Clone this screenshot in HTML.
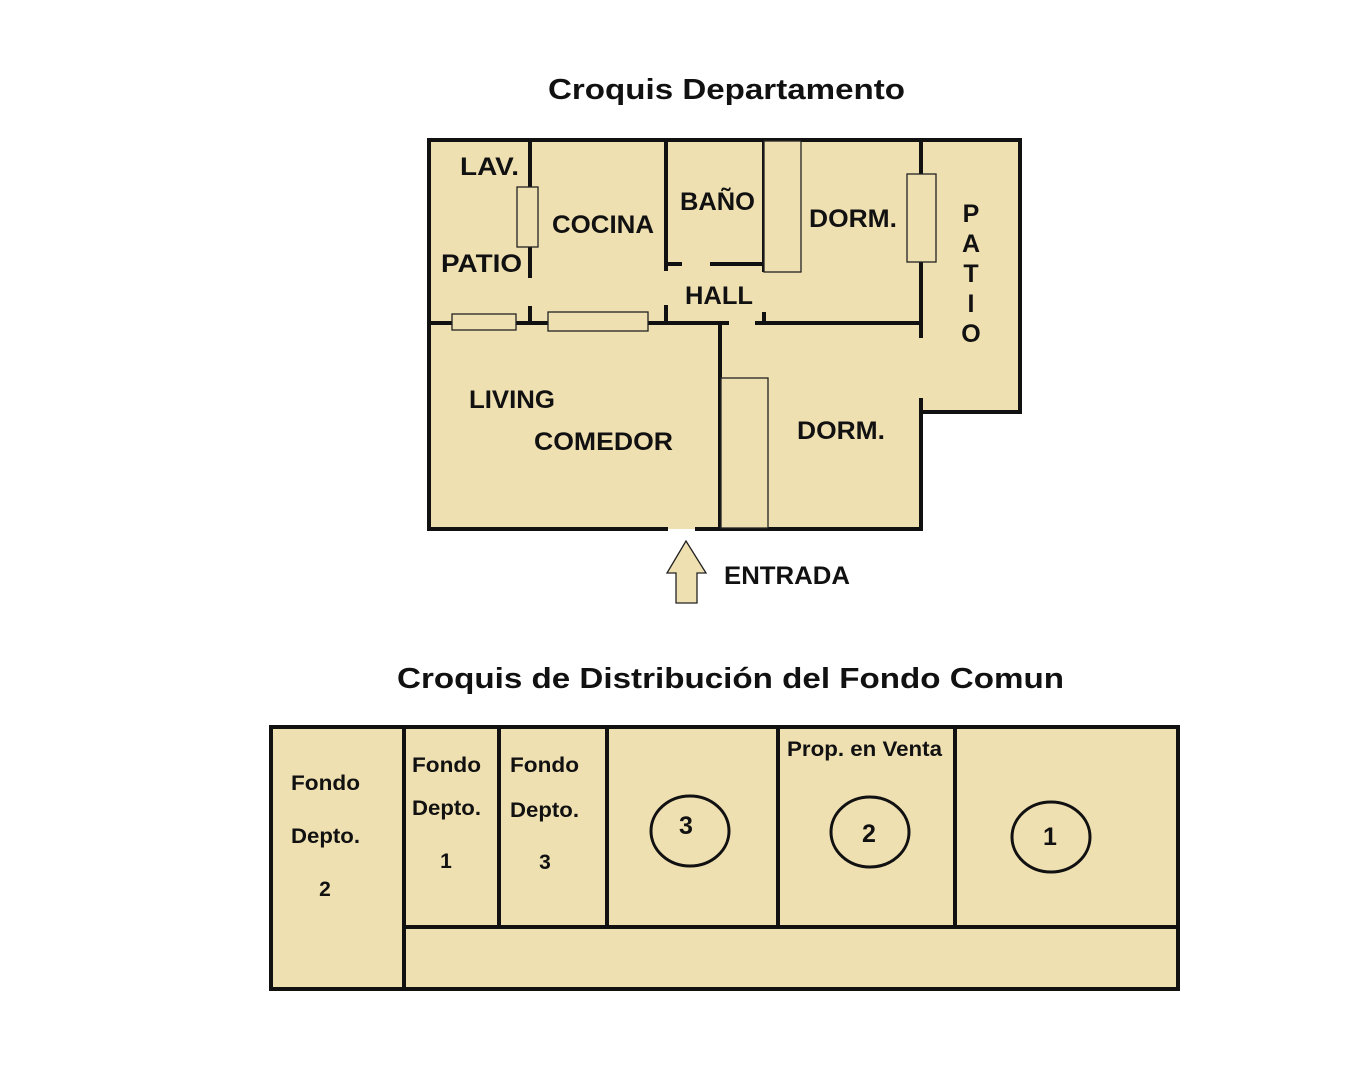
<!DOCTYPE html>
<html><head><meta charset="utf-8"><style>
html,body{margin:0;padding:0;background:#fff;}
svg{display:block}
text{font-family:"Liberation Sans",Arial,sans-serif;font-weight:bold;fill:#111;}
</style></head><body>
<svg width="1364" height="1080" viewBox="0 0 1364 1080" xmlns="http://www.w3.org/2000/svg">
<text x="548" y="99" font-size="29" textLength="357" lengthAdjust="spacingAndGlyphs">Croquis Departamento</text>
<polygon points="429,140 1020,140 1020,412 921,412 921,529 429,529" fill="#EFE0B2"/>
<g stroke="#111" stroke-width="4" fill="none" stroke-linecap="square">
<polyline points="666,529 429,529 429,140 1020,140 1020,412 921,412 921,529 697,529"/>
<line x1="530" y1="140" x2="530" y2="276"/>
<line x1="530" y1="308" x2="530" y2="322"/>
<line x1="666" y1="140" x2="666" y2="269"/>
<line x1="666" y1="307" x2="666" y2="322"/>
<line x1="666" y1="264" x2="680" y2="264"/>
<line x1="712" y1="264" x2="764" y2="264"/>
<line x1="764" y1="140" x2="764" y2="270"/>
<line x1="764" y1="314" x2="764" y2="322"/>
<line x1="429" y1="323" x2="727" y2="323"/>
<line x1="757" y1="323" x2="921" y2="323"/>
<line x1="921" y1="140" x2="921" y2="336"/>
<line x1="921" y1="400" x2="921" y2="529"/>
<line x1="720" y1="323" x2="720" y2="529"/>
</g>
<g stroke="#222" stroke-width="1.3" fill="#EFE0B2">
<rect x="517" y="187" width="21" height="60"/>
<rect x="452" y="314" width="64" height="16"/>
<rect x="548" y="312" width="100" height="19"/>
<rect x="764" y="141" width="37" height="131"/>
<rect x="907" y="174" width="29" height="88"/>
<rect x="721" y="378" width="47" height="150"/>
</g>
<g font-size="25">
<text x="460" y="175" textLength="59" lengthAdjust="spacingAndGlyphs">LAV.</text>
<text x="441" y="272" textLength="81" lengthAdjust="spacingAndGlyphs">PATIO</text>
<text x="552" y="233" textLength="102" lengthAdjust="spacingAndGlyphs">COCINA</text>
<text x="680" y="210" textLength="75" lengthAdjust="spacingAndGlyphs">BAÑO</text>
<text x="809" y="227" textLength="88" lengthAdjust="spacingAndGlyphs">DORM.</text>
<text x="685" y="304" textLength="68" lengthAdjust="spacingAndGlyphs">HALL</text>
<text x="469" y="408" textLength="86" lengthAdjust="spacingAndGlyphs">LIVING</text>
<text x="534" y="450" textLength="139" lengthAdjust="spacingAndGlyphs">COMEDOR</text>
<text x="797" y="439" textLength="88" lengthAdjust="spacingAndGlyphs">DORM.</text>
<text x="724" y="584" textLength="126" lengthAdjust="spacingAndGlyphs">ENTRADA</text>
<text x="971" y="222" text-anchor="middle">P</text>
<text x="971" y="252" text-anchor="middle">A</text>
<text x="971" y="282" text-anchor="middle">T</text>
<text x="971" y="312" text-anchor="middle">I</text>
<text x="971" y="342" text-anchor="middle">O</text>
</g>
<polygon points="686,541 706,573 697,573 697,603 676,603 676,573 667,573" fill="#EFE0B2" stroke="#222" stroke-width="1.3"/>

<text x="397" y="688" font-size="29" textLength="667" lengthAdjust="spacingAndGlyphs">Croquis de Distribución del Fondo Comun</text>
<rect x="271" y="727" width="907" height="262" fill="#EFE0B2"/>
<g stroke="#111" stroke-width="4" fill="none">
<rect x="271" y="727" width="907" height="262"/>
<line x1="404" y1="727" x2="404" y2="989"/>
<line x1="404" y1="927" x2="1178" y2="927"/>
<line x1="499" y1="727" x2="499" y2="925"/>
<line x1="607" y1="727" x2="607" y2="927"/>
<line x1="778" y1="727" x2="778" y2="927"/>
<line x1="955" y1="727" x2="955" y2="927"/>
</g>
<g stroke="#111" stroke-width="3" fill="none">
<ellipse cx="690" cy="831" rx="39" ry="35"/>
<ellipse cx="870" cy="832" rx="39" ry="35"/>
<ellipse cx="1051" cy="837" rx="39" ry="35"/>
</g>
<g font-size="21">
<text x="291" y="790" textLength="69" lengthAdjust="spacingAndGlyphs">Fondo</text>
<text x="291" y="843" textLength="69" lengthAdjust="spacingAndGlyphs">Depto.</text>
<text x="325" y="896" text-anchor="middle">2</text>
<text x="412" y="772" textLength="69" lengthAdjust="spacingAndGlyphs">Fondo</text>
<text x="412" y="815" textLength="69" lengthAdjust="spacingAndGlyphs">Depto.</text>
<text x="446" y="868" text-anchor="middle">1</text>
<text x="510" y="772" textLength="69" lengthAdjust="spacingAndGlyphs">Fondo</text>
<text x="510" y="817" textLength="69" lengthAdjust="spacingAndGlyphs">Depto.</text>
<text x="545" y="869" text-anchor="middle">3</text>
<text x="787" y="756" textLength="155" lengthAdjust="spacingAndGlyphs">Prop. en Venta</text>
</g>
<g font-size="25">
<text x="686" y="834" text-anchor="middle">3</text>
<text x="869" y="842" text-anchor="middle">2</text>
<text x="1050" y="845" text-anchor="middle">1</text>
</g>
</svg>
</body></html>
